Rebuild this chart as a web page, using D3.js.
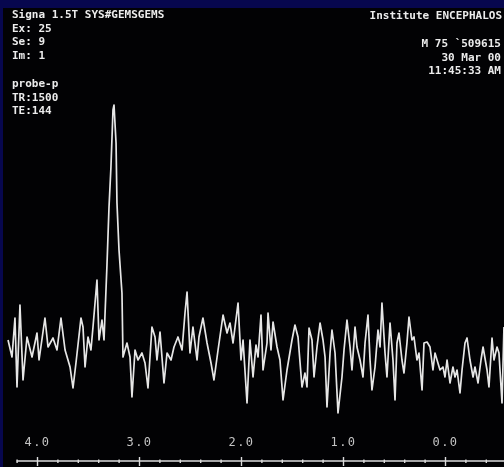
<!DOCTYPE html>
<html>
<head>
<meta charset="utf-8">
<script src="https://cdn.jsdelivr.net/npm/d3@7"></script>
<style>
  html, body { margin: 0; padding: 0; background: #000; }
  svg { display: block; }
</style>
</head>
<body>
<svg id="chart" width="504" height="467"></svg>
<script>
// Chemical shift (ppm) of each sample along the spectrum
const ppm = [
  4.284, 4.245, 4.216, 4.196, 4.167, 4.137, 4.098, 4.049, 4.000, 3.980,
  3.922, 3.892, 3.843, 3.804, 3.765, 3.725, 3.676, 3.647, 3.618, 3.569,
  3.549, 3.529, 3.500, 3.471, 3.451, 3.412, 3.392, 3.363, 3.343, 3.314,
  3.294, 3.275, 3.255, 3.245, 3.225, 3.216, 3.196, 3.167, 3.157, 3.118,
  3.088, 3.069, 3.039, 3.010, 2.971, 2.941, 2.912, 2.873, 2.843, 2.824,
  2.794, 2.755, 2.725, 2.686, 2.657, 2.618, 2.578, 2.549, 2.529, 2.500,
  2.471, 2.431, 2.412, 2.373, 2.333, 2.294, 2.265, 2.225, 2.176, 2.137,
  2.108, 2.078, 2.029, 2.000, 1.980, 1.941, 1.912, 1.882, 1.853, 1.833,
  1.804, 1.784, 1.745, 1.735, 1.706, 1.686, 1.647, 1.618, 1.588, 1.549,
  1.500, 1.471, 1.441, 1.402, 1.373, 1.353, 1.333, 1.304, 1.284, 1.255,
  1.225, 1.196, 1.176, 1.157, 1.127, 1.108, 1.078, 1.049, 1.010, 0.990,
  0.961, 0.931, 0.912, 0.882, 0.863, 0.833, 0.804, 0.784, 0.755, 0.735,
  0.716, 0.686, 0.657, 0.637, 0.618, 0.588, 0.569, 0.539, 0.510, 0.490,
  0.471, 0.451, 0.422, 0.402, 0.373, 0.353, 0.324, 0.304, 0.275, 0.255,
  0.225, 0.206, 0.176, 0.147, 0.118, 0.098, 0.078, 0.049, 0.020, 0.000,
  -0.020, -0.049, -0.078, -0.098, -0.118, -0.147, -0.167, -0.196, -0.216, -0.245,
  -0.275, -0.294, -0.324, -0.353, -0.373, -0.412, -0.431, -0.461, -0.480, -0.510,
  -0.529, -0.559, -0.578
];

// Signal intensity (arbitrary units) at each chemical shift
const intensity = [
  80, 63, 102, 33, 115, 40, 83, 63, 87, 60,
  102, 73, 82, 70, 102, 70, 53, 32, 57, 102,
  93, 53, 83, 70, 93, 140, 80, 100, 80, 155,
  213, 253, 310, 315, 277, 217, 170, 127, 63, 77,
  63, 23, 70, 60, 67, 57, 32, 93, 83, 60,
  88, 37, 67, 60, 73, 83, 70, 107, 128, 67,
  93, 60, 83, 102, 77, 57, 40, 70, 105, 87,
  97, 77, 117, 60, 80, 17, 80, 43, 75, 63,
  105, 50, 77, 107, 70, 98, 73, 60, 20, 50,
  80, 95, 83, 33, 47, 33, 92, 80, 43, 73,
  97, 80, 63, 13, 67, 90, 67, 7, 43, 70,
  100, 73, 50, 93, 73, 60, 43, 77, 105, 60,
  30, 53, 90, 73, 117, 67, 43, 97, 60, 20,
  77, 87, 60, 47, 77, 103, 80, 83, 60, 67,
  30, 77, 78, 73, 50, 67, 60, 50, 53, 43,
  60, 37, 53, 43, 50, 27, 50, 77, 82, 60,
  43, 53, 37, 60, 73, 50, 33, 82, 60, 73,
  67, 17, 93
];

// Axis ticks (ppm): labelled majors and the 0.2 ppm minor marks
const majorTicks = [4.0, 3.0, 2.0, 1.0, 0.0];
const minorTicks = [4.2, 3.8, 3.6, 3.4, 3.2, 2.8, 2.6, 2.4, 2.2, 1.8, 1.6, 1.4, 1.2, 0.8, 0.6, 0.4, 0.2, -0.2, -0.4];

// Scan header lines
const headerLeft = ["Signa 1.5T SYS#GEMSGEMS", "Ex: 25", "Se: 9", "Im: 1"];
const headerLeft2 = ["probe-p", "TR:1500", "TE:144"];
const headerRight = ["Institute ENCEPHALOS"];
const headerRight2 = ["M 75 `509615", "30 Mar 00", "11:45:33 AM"];

const W = 504, H = 467;
const svg = d3.select("#chart");

const defs = svg.append("defs");
defs.append("filter").attr("id", "soft")
  .append("feGaussianBlur").attr("stdDeviation", 0.35);

// Screen frame: black field with a navy strip along the top and left edges
svg.append("rect").attr("width", W).attr("height", H).attr("fill", "#020204");
svg.append("rect").attr("width", W).attr("height", 8).attr("fill", "#07074e");
svg.append("rect").attr("width", 3).attr("height", H).attr("fill", "#07074e");

const x = d3.scaleLinear().domain([4.0, 0.0]).range([37, 445]);
const y = d3.scaleLinear().domain([0, 315]).range([420, 105]);

const g = svg.append("g").attr("filter", "url(#soft)");

// Spectrum trace
const pts = ppm.map((p, i) => [p, intensity[i]]);
g.append("path")
  .datum(pts)
  .attr("fill", "none")
  .attr("stroke", "#e6e6e6")
  .attr("stroke-width", 1.7)
  .attr("stroke-linejoin", "round")
  .attr("d", d3.line().x(d => x(d[0])).y(d => y(d[1])));

// Chemical shift axis
const axisY = 461;
const axisG = g.append("g").attr("transform", `translate(0,${axisY})`);
axisG.append("line")
  .attr("x1", x(4.2)).attr("x2", W)
  .attr("stroke", "#dcdcdc").attr("stroke-width", 1.6);

const tickAxis = d3.axisBottom(x)
  .tickValues(majorTicks.concat(minorTicks))
  .tickFormat("")
  .tickSizeOuter(0);
const ticks = axisG.append("g").call(tickAxis);
ticks.select(".domain").remove();
ticks.selectAll(".tick line")
  .attr("stroke", "#dcdcdc")
  .attr("stroke-width", 1.4)
  .attr("y1", d => majorTicks.includes(d) ? -4 : -1.5)
  .attr("y2", d => majorTicks.includes(d) ? 5 : 2);

const labelAxis = d3.axisTop(x)
  .tickValues(majorTicks)
  .tickFormat(d3.format(".1f"))
  .tickSize(0)
  .tickPadding(15);
const labels = axisG.append("g").call(labelAxis);
labels.select(".domain").remove();
labels.selectAll(".tick text")
  .attr("fill", "#c4c4c4")
  .attr("font-family", "DejaVu Sans Mono, monospace")
  .attr("font-size", 12)
  .attr("letter-spacing", 1.4);

// Header text blocks
function block(lines, xPos, y0, anchor) {
  g.append("g").selectAll("text")
    .data(lines)
    .join("text")
    .attr("x", xPos)
    .attr("y", (d, i) => y0 + i * 13.7)
    .attr("text-anchor", anchor)
    .attr("fill", "#ececec")
    .attr("font-family", "DejaVu Sans Mono, monospace")
    .attr("font-weight", "bold")
    .attr("font-size", 11)
    .text(d => d);
}
block(headerLeft, 12, 18, "start");
block(headerLeft2, 12, 87, "start");
block(headerRight, 502, 19, "end");
block(headerRight2, 501, 47, "end");
</script>
</body>
</html>
